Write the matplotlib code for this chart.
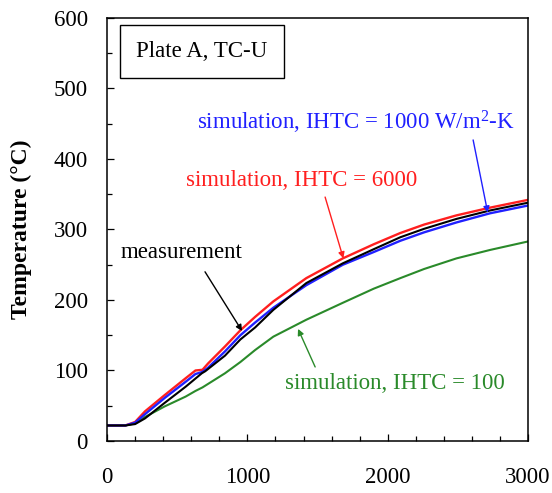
import numpy as np
import matplotlib
matplotlib.use("Agg")
import matplotlib.pyplot as plt
from matplotlib.ticker import MultipleLocator

plt.rcParams['font.family'] = ['Liberation Serif', 'DejaVu Serif']
plt.rcParams['mathtext.fontset'] = 'custom'
plt.rcParams['mathtext.rm'] = 'Liberation Serif'

# time (s) and temperature (C)
t_sim = [0, 130, 200, 270, 410, 560, 630, 680, 720, 840, 950, 1055, 1185,
         1420, 1680, 1900, 2090, 2260, 2490, 2730, 3000]
T_6000 = [22, 22, 27, 42, 65, 89, 100, 101, 110, 134, 157, 176, 198,
          231, 259, 279, 295, 307, 320, 331, 342]
T_1000 = [22, 22, 26, 38, 61, 84, 95, 98, 104, 127, 150, 168, 189,
          221, 250, 268, 284, 296, 310, 323, 334]
T_100 = [22, 22, 25, 34, 49, 63, 71, 76, 81, 96, 112, 129, 148,
         172, 196, 216, 231, 244, 259, 271, 283]

t_meas = [0, 130, 200, 270, 410, 560, 675, 700, 840, 950, 1055, 1185,
          1420, 1680, 1900, 2090, 2260, 2490, 2730, 3000]
T_meas = [22, 22, 24, 32, 54, 77, 96, 99, 121, 144, 161, 186,
          224, 252, 272, 289, 301, 315, 327, 338]

red = '#ff1f1f'
blue = '#2020ff'
green = '#2a8a2a'

fig = plt.figure(figsize=(5.52, 4.93), dpi=100)
ax = fig.add_axes([0.194, 0.1055, 0.7625, 0.858])

ax.plot(t_sim, T_100, color=green, lw=1.5)
ax.plot(t_sim, T_6000, color=red, lw=1.7)
ax.plot(t_sim, T_1000, color=blue, lw=1.7)
ax.plot(t_meas, T_meas, color='black', lw=1.5)

ax.set_xlim(0, 3000)
ax.set_ylim(0, 600)
ax.xaxis.set_major_locator(MultipleLocator(1000))
ax.xaxis.set_minor_locator(MultipleLocator(200))
ax.yaxis.set_major_locator(MultipleLocator(100))
ax.yaxis.set_minor_locator(MultipleLocator(50))
ax.tick_params(which='both', direction='in', width=0.9, labelsize=16.5)
ax.tick_params(which='major', length=5)
ax.tick_params(which='minor', length=3.6)
ax.tick_params(axis='x', pad=19)
ax.tick_params(axis='y', pad=14)
for s in ax.spines.values():
    s.set_linewidth(1.1)

ax.set_ylabel('Temperature (°C)', fontsize=17, fontweight='bold')
ax.yaxis.set_label_coords(-0.178, 0.5)

arrow = dict(arrowstyle='-|>', lw=1.0, mutation_scale=9, shrinkA=0, shrinkB=0)

ax.text(93, 267, 'measurement', fontsize=16.5, ha='left', va='center',
        color='black')
ax.annotate('', xy=(962, 156), xytext=(698, 240),
            arrowprops=dict(arrow, color='black'))

ax.text(1390, 370, 'simulation, IHTC = 6000', fontsize=16.5, color=red,
        ha='center', va='center')
ax.annotate('', xy=(1684, 259), xytext=(1554, 346),
            arrowprops=dict(arrow, color=red))

ax.text(1770, 452, r'simulation, IHTC = 1000 W/$\mathregular{m^2}$-K',
        fontsize=16.5, color=blue, ha='center', va='center')
ax.annotate('', xy=(2713, 324), xytext=(2609, 427),
            arrowprops=dict(arrow, color=blue))

ax.text(2050, 82, 'simulation, IHTC = 100', fontsize=16.5, color=green,
        ha='center', va='center')
ax.annotate('', xy=(1361, 159), xytext=(1483, 105),
            arrowprops=dict(arrow, color=green))

ax.text(677, 552, 'Plate A, TC-U', fontsize=16.5, ha='center', va='center',
        bbox=dict(boxstyle='square,pad=0.7', fc='white', ec='black', lw=1.0))

fig.savefig('out.png', dpi=100)
